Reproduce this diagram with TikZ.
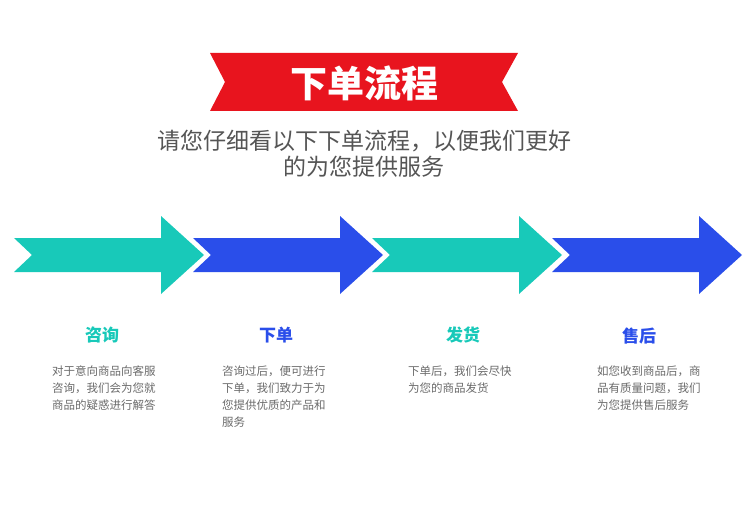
\documentclass[tikz,border=0pt]{standalone}
\usepackage{fontspec}
\setmainfont{Noto Sans CJK SC}
\usepackage{tikz}
\usetikzlibrary{positioning}
\definecolor{bannerred}{HTML}{E8141E}
\definecolor{stepteal}{HTML}{18C9B9}
\definecolor{stepblue}{HTML}{2A4EEA}
\definecolor{introgray}{HTML}{555555}
\definecolor{descgray}{HTML}{6A6A6A}

\begin{document}
\begin{tikzpicture}[x=1pt, y=-1pt,
		steptitle/.style={inner sep=0pt, font=\fontsize{17}{17}\selectfont\bfseries},
		stepdesc/.style={anchor=north west, align=left, inner sep=0pt, text=descgray, font=\fontsize{11.5}{17}\selectfont}]
		\useasboundingbox (0,0) rectangle (750,516);
		
		\fill[bannerred] (210,53) -- (518,53) -- (502,82) -- (518,111) -- (210,111) -- (225,82) -- cycle;
		\node[inner sep=0pt, text=white, font=\fontsize{37}{37}\selectfont\bfseries] (title) at (364,83) {下单流程};
		\node[below = 29pt of title, align=center, inner sep=0pt, text=introgray, font=\fontsize{23}{26}\selectfont] (intro) {请您仔细看以下下单流程，以便我们更好\\的为您提供服务};
		
		\fill[stepteal] (14,238) -- ++(147,0) -- ++(0,-22) -- ++(43,39) -- ++(-43,39) -- ++(0,-22) -- ++(-147,0) -- ++(18,-17) -- cycle;
		\fill[stepblue] (193,238) -- ++(147,0) -- ++(0,-22) -- ++(43,39) -- ++(-43,39) -- ++(0,-22) -- ++(-147,0) -- ++(18,-17) -- cycle;
		\fill[stepteal] (372,238) -- ++(147,0) -- ++(0,-22) -- ++(43,39) -- ++(-43,39) -- ++(0,-22) -- ++(-147,0) -- ++(18,-17) -- cycle;
		\fill[stepblue] (552,238) -- ++(147,0) -- ++(0,-22) -- ++(43,39) -- ++(-43,39) -- ++(0,-22) -- ++(-147,0) -- ++(18,-17) -- cycle;
		
		\node[steptitle, text=stepteal] (ask) at (102,335) {咨询};
		\node[stepdesc] (ask-desc) at (52,366) {对于意向商品向客服\\咨询，我们会为您就\\商品的疑惑进行解答};
		
		\node[steptitle, text=stepblue] (order) at (276,335) {下单};
		\node[stepdesc] (order-desc) at (222,366) {咨询过后，便可进行\\下单，我们致力于为\\您提供优质的产品和\\服务};
		
		\node[steptitle, text=stepteal] (ship) at (463,335) {发货};
		\node[stepdesc] (ship-desc) at (408,366) {下单后，我们会尽快\\为您的商品发货};
		
		\node[steptitle, text=stepblue] (after) at (639,336) {售后};
		\node[stepdesc] (after-desc) at (597,366) {如您收到商品后，商\\品有质量问题，我们\\为您提供售后服务};
		
	\end{tikzpicture}
\end{document}
